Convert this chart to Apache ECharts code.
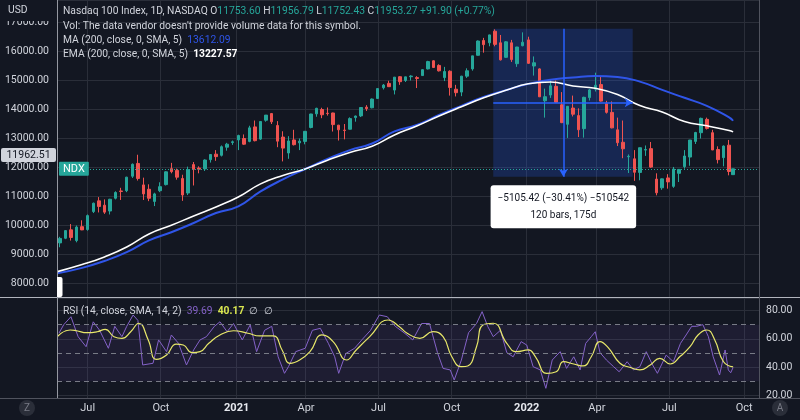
<!DOCTYPE html>
<html><head><meta charset="utf-8">
<script src="https://cdn.jsdelivr.net/npm/echarts@6.0.0/dist/echarts.min.js"></script>
<style>html,body{margin:0;padding:0;background:#131722;}#chart{width:800px;height:420px;}</style>
</head><body><div id="chart"></div>
<script>
// ---------------- data ----------------
const candleDates = [
'2020-05-27','2020-06-03','2020-06-10','2020-06-17','2020-06-24','2020-07-01','2020-07-08','2020-07-15','2020-07-22','2020-07-29',
'2020-08-05','2020-08-12','2020-08-19','2020-08-26','2020-09-02','2020-09-09','2020-09-16','2020-09-23','2020-09-30','2020-10-07',
'2020-10-14','2020-10-21','2020-10-28','2020-11-04','2020-11-11','2020-11-18','2020-11-25','2020-12-02','2020-12-09','2020-12-16',
'2020-12-23','2020-12-30',
'2021-01-06','2021-01-13','2021-01-20','2021-01-27','2021-02-03','2021-02-10','2021-02-17','2021-02-24','2021-03-03','2021-03-10',
'2021-03-17','2021-03-24','2021-03-31','2021-04-07','2021-04-14','2021-04-21','2021-04-28','2021-05-05','2021-05-12','2021-05-19',
'2021-05-26','2021-06-02','2021-06-09','2021-06-16','2021-06-23','2021-06-30','2021-07-07','2021-07-14','2021-07-21','2021-07-28',
'2021-08-04','2021-08-11','2021-08-18','2021-08-25','2021-09-01','2021-09-08','2021-09-15','2021-09-22','2021-09-29','2021-10-06',
'2021-10-13','2021-10-20','2021-10-27','2021-11-03','2021-11-10','2021-11-17','2021-11-24','2021-12-01','2021-12-08','2021-12-15',
'2021-12-22','2021-12-29',
'2022-01-05','2022-01-12','2022-01-19','2022-01-26','2022-02-02','2022-02-09','2022-02-16','2022-02-23','2022-03-02','2022-03-09',
'2022-03-16','2022-03-23','2022-03-30','2022-04-06','2022-04-13','2022-04-20','2022-04-27','2022-05-04','2022-05-11','2022-05-18',
'2022-05-25','2022-06-01','2022-06-08','2022-06-15','2022-06-22','2022-06-29','2022-07-06','2022-07-13','2022-07-20','2022-07-27',
'2022-08-03','2022-08-10','2022-08-17','2022-08-24','2022-08-31','2022-09-07','2022-09-14','2022-09-19'];
const opens = [
9400,9560,9850,9480,9960,9860,10480,10850,10700,10500,10940,11190,11200,11700,12140,11400,11250,10830,11200,11410,
11960,11900,11620,11120,12100,11980,11950,12270,12460,12420,12700,12860,
12950,13000,12900,13400,12980,13630,13860,13450,13050,12500,12950,12850,12900,13380,13850,14000,13870,13880,
13460,13290,13320,13720,13780,14080,14060,14380,14750,14900,14670,15130,15000,15130,15100,15170,15400,15680,
15520,15100,15320,14700,14600,15150,15400,15870,16380,16300,16700,16300,15800,16300,15580,16200,
16400,15500,15400,14300,14500,14800,14160,13490,14050,13790,13340,14410,14700,14860,14200,13900,13300,12870,
12370,12300,11830,12600,12650,11600,11300,11640,11350,11800,12030,12360,12900,13200,13660,13200,12620,12340,
12770,11753.60];
const highs = [
9610,9840,10050,10000,10180,10380,10790,10980,10900,10920,11180,11300,11680,12140,12440,11650,11420,11130,11490,11870,
12160,11960,11750,12030,12190,12040,12280,12460,12600,12760,12850,12930,
13130,13140,13440,13620,13600,13810,13880,13600,13250,13080,13300,13000,13260,13850,14060,14060,14070,13890,
13470,13500,13730,13790,14080,14150,14380,14730,14880,14990,15120,15150,15130,15180,15150,15390,15680,15700,
15560,15470,15350,14850,15160,15420,15850,16380,16470,16580,16765,16570,16360,16400,16160,16660,
16510,15830,15420,14720,15040,15000,14600,14120,14480,14040,14440,14710,15270,15150,14300,14280,13720,13620,
12450,12600,12690,12760,12880,11800,11620,11770,12020,11940,12600,12950,13230,13720,13720,13300,12730,12760,
12950,11956.79];
const lows = [
9250,9530,9480,9420,9840,9820,10430,10450,10400,10380,10900,10880,11150,11640,11550,10880,10840,10670,11150,11380,
11800,11580,10850,11050,11380,11800,11880,12170,12230,12380,12580,12780,
12600,12780,12870,12900,12950,13580,13500,12700,12210,12300,12760,12600,12800,13350,13750,13700,13790,13240,
12930,12970,13310,13580,13740,13950,14040,14360,14690,14780,14520,14850,14950,15000,14740,15160,15380,15430,
15310,14980,14480,14450,14460,15090,15340,15860,15960,16180,16180,15690,15780,15640,15470,16180,
15570,15170,14430,13720,14400,14240,13530,13020,13760,13050,13030,14310,14620,14270,13860,13350,12740,12320,
11810,11540,11560,12400,11990,11040,11230,11270,11300,11500,11960,12060,12810,13000,13310,12600,12140,12040,
11730,11752.43];
const closes = [
9555,9824,9588,9946,9849,10341,10768,10657,10461,10905,11139,11175,11667,12110,11622,11089,10939,11090,11340,11851,
11857,11667,11052,11926,11937,11940,12258,12448,12375,12717,12804,12888,
13105,12804,13367,12925,13587,13807,13575,12909,12669,12915,12787,12908,13247,13845,14041,13818,13860,13480,
13300,13277,13686,13775,14069,14030,14360,14722,14843,14787,15116,14959,15126,15154,15070,15374,15653,15450,
15334,15310,14760,14580,15150,15335,15850,16362,16236,16573,16246,15712,16334,15720,16155,16320,
15592,15612,14438,14441,14816,14253,13548,14110,13838,13302,14420,14676,14838,14289,13901,13367,12855,12645,
12387,11835,12682,12620,12014,11128,11608,11504,11948,11935,12397,12947,13207,13695,13349,12605,12271,12739,
11862,11953.27];

const lineDates = ['2020-05-24','2020-06-24','2020-07-22','2020-08-19','2020-09-16','2020-10-14','2020-11-11','2020-12-09',
'2021-01-06','2021-02-03','2021-03-03','2021-03-31','2021-04-28','2021-05-26','2021-06-23','2021-07-21','2021-08-18',
'2021-09-15','2021-10-13','2021-11-10','2021-12-08','2022-01-05','2022-02-02','2022-03-02','2022-03-30','2022-04-27',
'2022-05-25','2022-06-22','2022-07-20','2022-08-17','2022-09-14','2022-09-19'];
const maValues = [8350,8538,8776,9080,9486,9769,10086,10431,10659,11176,11590,11948,12293,12600,12828,13245,13465,
13810,14127,14431,14669,14883,15027,15103,15155,15124,14962,14676,14403,14127,13731,13612.09];
const emaValues = [8410,8652,8917,9259,9707,10007,10328,10638,10983,11435,11728,11948,12252,12521,12734,13121,13431,
13776,14096,14403,14662,14886,14948,14810,14731,14517,14134,13914,13586,13438,13276,13227.57];

const rsiDates = ['2020-05-26','2020-06-01','2020-06-10','2020-06-19','2020-06-29','2020-07-08','2020-07-16','2020-07-27',
'2020-08-04','2020-08-13','2020-08-19','2020-08-27','2020-09-02','2020-09-08','2020-09-21','2020-09-28','2020-10-08',
'2020-10-14','2020-10-23','2020-11-02','2020-11-11','2020-11-19','2020-11-27','2020-12-07','2020-12-14','2020-12-23',
'2020-12-31','2021-01-11','2021-01-21','2021-01-29','2021-02-08','2021-02-17','2021-02-25','2021-03-05','2021-03-10',
'2021-03-19','2021-03-31','2021-04-09','2021-04-19','2021-04-29','2021-05-07','2021-05-12','2021-05-21','2021-06-01',
'2021-06-10','2021-06-21','2021-07-02','2021-07-12','2021-07-22','2021-08-02','2021-08-13','2021-08-24','2021-09-03',
'2021-09-13','2021-09-20','2021-09-29','2021-10-04','2021-10-13','2021-10-22','2021-11-01','2021-11-08','2021-11-15',
'2021-11-22','2021-12-01','2021-12-09','2021-12-17','2021-12-27','2022-01-03','2022-01-11','2022-01-20','2022-01-27',
'2022-02-04','2022-02-14','2022-02-22','2022-03-03','2022-03-11','2022-03-18','2022-03-25','2022-03-30','2022-04-05',
'2022-04-13','2022-04-22','2022-04-29','2022-05-09','2022-05-17','2022-05-25','2022-06-02','2022-06-10','2022-06-16',
'2022-06-27','2022-07-06','2022-07-15','2022-07-22','2022-07-29','2022-08-04','2022-08-12','2022-08-19','2022-08-25',
'2022-09-02','2022-09-09','2022-09-13','2022-09-16','2022-09-19'];
const rsiValues = [64,70,75.6,61.5,54.4,72,66,53.3,68.8,61.5,68.8,76.8,73,41.5,42.7,59.2,50.9,62.7,56.8,41.5,52.1,59.2,
61.5,68.8,72,65,70.8,59.2,69.8,50.9,66,68.8,47.3,35.6,40.3,50.9,53.3,66,67.4,56.8,47.3,35.6,49.6,53.3,59.2,66,76.8,
75.6,68.8,64.3,59.2,70.8,70.8,50.2,39.1,38,30.9,45,64.3,70.8,79.2,68.8,61.5,66,50.2,47.3,58,55.6,40.3,38,25,45,50.9,
39.1,47.3,38,56.8,61.5,65,50.2,45,40.3,36.7,43.8,38,40.3,50.9,41.5,35.6,48.5,43.8,56.8,62.7,68.8,68.8,70,61.5,47.3,
34.4,52.1,38,36,39.69];

const rsiMaDates = ['2020-05-24','2020-06-09','2020-06-17','2020-06-30','2020-07-13','2020-07-23','2020-08-03','2020-08-13',
'2020-08-24','2020-09-03','2020-09-15','2020-09-25','2020-10-08','2020-10-20','2020-10-29','2020-11-09','2020-11-19',
'2020-11-30','2020-12-14','2020-12-31','2021-01-18','2021-02-02','2021-02-19','2021-03-02','2021-03-12','2021-03-24',
'2021-04-06','2021-04-21','2021-05-05','2021-05-22','2021-06-03','2021-06-20','2021-07-13','2021-07-28','2021-08-05',
'2021-08-22','2021-09-07','2021-09-20','2021-10-01','2021-10-13','2021-10-21','2021-11-01','2021-11-09','2021-11-22',
'2021-12-09','2021-12-21','2022-01-05','2022-01-14','2022-01-28','2022-02-09','2022-02-18','2022-03-03','2022-03-15',
'2022-03-25','2022-04-05','2022-04-15','2022-04-30','2022-05-12','2022-05-25','2022-06-07','2022-06-19','2022-07-02',
'2022-07-15','2022-07-27','2022-08-06','2022-08-17','2022-08-27','2022-09-07','2022-09-19'];
const rsiMaValues = [61.5,66.2,65.7,64.3,65,66.7,61.5,60.3,65,71,59.2,45.5,48.6,56.3,55.6,50.2,50.9,56.8,62.7,65.7,63.9,
62,62,52.1,42.7,45,50.9,62.7,58,45,52.1,61.5,73.3,68.1,64.3,60.3,65,61.5,47.3,40.3,40.8,54.4,69.8,71,56.8,50.9,52.1,
47.3,35.6,36.7,43.8,42.2,40.8,47.3,58,54,42.7,39.9,38,41.5,46.2,42.2,47.8,54.4,62.7,66.2,59.2,43.8,40.17];

const quarterDates = ['2020-07-01','2020-10-01','2021-01-04','2021-04-01','2021-07-01','2021-10-01','2022-01-03','2022-04-01','2022-07-01','2022-10-03'];
const quarterLabels = ['Jul','Oct','2021','Apr','Jul','Oct','2022','Apr','Jul','Oct'];

const rsiLevels = [70, 50, 30];
const measureStart = {date:'2021-11-22', price:16788.60};
const measureEnd = {date:'2022-05-16', price:11683.18};
const measureBars = '120 bars, 175d';
const headerChange = '+91.90 (+0.77%)';
const crosshairPrice = '11962.51';

// ---------------- axis helpers ----------------
const startDay = Date.UTC(2020, 4, 24);
const N_DAYS = 881;
const dayIdx = s => { const p = s.split('-').map(Number); return Math.round((Date.UTC(p[0], p[1]-1, p[2]) - startDay) / 864e5); };
const days = [];
for (let k = 0; k < N_DAYS; k++) days.push(new Date(startDay + k*864e5).toISOString().slice(0,10));
const qMap = new Map(quarterDates.map((d,i) => [dayIdx(d), quarterLabels[i]]));

const FONT = 'Roboto, "Noto Sans", sans-serif';
const HF = '10.3px ' + FONT;
const BG = '#131722';
const GRID = '#2a2e39';
const TXT = '#d1d4dc';

function xAxisCfg(gi) {
  return {
    type:'category', gridIndex: gi, data: days, boundaryGap: true,
    axisLine:{show:false}, axisTick:{show:false},
    axisLabel:{show: gi === 1, interval:(i) => qMap.has(i), margin: 5, color: TXT, fontSize: 11, fontFamily: FONT,
      formatter:(v) => { const l = qMap.get(dayIdx(v)) || ''; return /^\d{4}$/.test(l) ? '{y|' + l + '}' : l; },
      rich:{y:{fontWeight:'bold', color:'#e6e8ee', fontSize:11, fontFamily: FONT}}},
    splitLine:{show:true, interval:(i) => qMap.has(i), lineStyle:{color: GRID, width:1}}
  };
}

const candleData = candleDates.map((d,i) => [dayIdx(d), opens[i], closes[i], lows[i], highs[i]]);
const last = candleDates.length - 1;
const midIdx = Math.round((dayIdx(measureStart.date) + dayIdx(measureEnd.date)) / 2);
const midPrice = (measureStart.price + measureEnd.price) / 2;
const diff = measureEnd.price - measureStart.price;
const pct = diff / measureStart.price * 100;
const minus = s => s.replace('-', '\u2212');
const measureText = minus(diff.toFixed(2)) + ' (' + minus(pct.toFixed(2)) + '%) ' + minus(String(Math.round(diff*100)));

const option = {
  backgroundColor: BG,
  animation: false,
  textStyle:{fontFamily: FONT},
  grid: [
    {left: 57, right: 41, top: 0, height: 297},
    {left: 57, right: 41, top: 298, height: 100}
  ],
  xAxis: [xAxisCfg(0), xAxisCfg(1)],
  yAxis: [
    {type:'value', gridIndex:0, position:'left', min:7534.5, max:17776, splitNumber:10,
      axisLine:{show:false}, axisTick:{show:false},
      axisLabel:{color: TXT, fontSize:10.5, fontFamily: FONT, margin:8, showMinLabel:true, showMaxLabel:true,
        formatter: v => (Math.abs(v % 1000) < 1e-6 ? v.toFixed(2) : '')},
      splitLine:{lineStyle:{color: GRID}}},
    {type:'value', gridIndex:1, position:'right', min:18.16, max:88.83, splitNumber:3,
      axisLine:{show:false}, axisTick:{show:false},
      axisLabel:{color: TXT, fontSize:10.5, fontFamily: FONT, margin:7, showMinLabel:true, showMaxLabel:true,
        formatter: v => (Math.abs(v % 20) < 1e-6 ? v.toFixed(2) : '')},
      splitLine:{lineStyle:{color: GRID}}}
  ],
  series: [
    {type:'candlestick', name:'NDX', xAxisIndex:0, yAxisIndex:0, data: candleData, encode:{x:0, y:[1,2,3,4]},
      barWidth: 3,
      itemStyle:{color:'#26a69a', color0:'#ef5350', borderColor:'#26a69a', borderColor0:'#ef5350', borderWidth:1},
      markLine:{silent:true, symbol:['none','none'],
        data:[{yAxis: closes[last], lineStyle:{color:'#26a69a', type:[1,2], width:1},
          label:{show:true, position:'insideStart', distance:2, formatter:'NDX', color:'#ffffff', fontSize:11, fontFamily: FONT,
            backgroundColor:'#26a69a', padding:[2,4,1,4], borderRadius:1}}]}
    },
    {type:'line', name:'MA', xAxisIndex:0, yAxisIndex:0, smooth:true, showSymbol:false,
      data: lineDates.map((d,i) => [dayIdx(d), maValues[i]]), lineStyle:{color:'#2f55e8', width:2}},
    {type:'line', name:'EMA', xAxisIndex:0, yAxisIndex:0, smooth:true, showSymbol:false,
      data: lineDates.map((d,i) => [dayIdx(d), emaValues[i]]), lineStyle:{color:'#ffffff', width:1.6}},
    {type:'line', name:'measure', xAxisIndex:0, yAxisIndex:0, data: [], z: 5,
      markArea:{silent:true, itemStyle:{color:'rgba(41,98,255,0.22)'},
        data:[[{coord:[dayIdx(measureStart.date), measureStart.price]}, {coord:[dayIdx(measureEnd.date), measureEnd.price]}]]},
      markLine:{silent:true, symbol:['none','arrow'], symbolSize:[7,8], lineStyle:{color:'#2962ff', width:1.5, type:'solid'}, label:{show:false},
        data:[
          [{coord:[midIdx, measureStart.price]}, {coord:[midIdx, measureEnd.price]}],
          [{coord:[dayIdx(measureStart.date), midPrice]}, {coord:[dayIdx(measureEnd.date), midPrice]}]
        ]},
      markPoint:{silent:true, symbol:'rect', symbolSize:1, itemStyle:{color:'rgba(0,0,0,0)'},
        label:{show:true, position:'bottom', distance:8, formatter: measureText + '\n' + measureBars,
          backgroundColor:'#ffffff', borderRadius:3, padding:[5,7,4,7], color:'#131722', fontSize:10, lineHeight:17, align:'center', fontFamily: FONT},
        data:[{coord:[midIdx, measureEnd.price]}]}
    },
    {type:'line', name:'RSI', xAxisIndex:1, yAxisIndex:1, showSymbol:false,
      data: rsiDates.map((d,i) => [dayIdx(d), rsiValues[i]]), lineStyle:{color:'#8462c8', width:1},
      markArea:{silent:true, itemStyle:{color:'rgba(126,87,194,0.10)'}, data:[[{yAxis: rsiLevels[0]}, {yAxis: rsiLevels[2]}]]},
      markLine:{silent:true, symbol:['none','none'], label:{show:false}, lineStyle:{color:'#787b86', type:[5,4], width:1},
        data: rsiLevels.map(v => ({yAxis: v}))}
    },
    {type:'line', name:'RSI MA', xAxisIndex:1, yAxisIndex:1, smooth:true, showSymbol:false,
      data: rsiMaDates.map((d,i) => [dayIdx(d), rsiMaValues[i]]), lineStyle:{color:'#e8e86a', width:1.2}}
  ],
  graphic: [
    {type:'line', z:50, shape:{x1:0, y1:297.5, x2:800, y2:297.5}, style:{stroke:'#b2b5be', lineWidth:1}},
    {type:'line', z:50, shape:{x1:0, y1:398.5, x2:800, y2:398.5}, style:{stroke:'#50535e', lineWidth:1}},
    {type:'line', z:50, shape:{x1:57.5, y1:0, x2:57.5, y2:398}, style:{stroke:'#9598a1', lineWidth:1}},
    {type:'line', z:50, shape:{x1:759.5, y1:0, x2:759.5, y2:398}, style:{stroke:'#50535e', lineWidth:1}},
    {type:'rect', z:49, shape:{x:760, y:399, width:40, height:21}, style:{fill: BG}},
    {type:'rect', z:60, shape:{x:0, y:0, width:57, height:21}, style:{fill: BG}},
    {type:'text', z:61, style:{x:8, y:10, text:'USD', fill: TXT, font: HF, verticalAlign:'middle'}},
    {type:'rect', z:60, shape:{x:1, y:148, width:55, height:14, r:2}, style:{fill:'#d1d4dc'}},
    {type:'text', z:61, style:{x:28.5, y:155.5, text: crosshairPrice, fill:'#131722', font:'10.5px ' + FONT, align:'center', verticalAlign:'middle'}},
    {type:'rect', z:60, shape:{x:57, y:277, width:5.5, height:20, r:[0,2,2,0]}, style:{fill:'#ffffff'}},
    {type:'text', z:61, style:{x:63, y:11, verticalAlign:'middle', font: HF, fill: TXT,
      text:'{w|Nasdaq 100 Index, 1D, NASDAQ} {w|O}{g|' + opens[last].toFixed(2) + '} {w|H}{g|' + highs[last].toFixed(2) + '} {w|L}{g|' + lows[last].toFixed(2) + '} {w|C}{g|' + closes[last].toFixed(2) + ' ' + headerChange + '}',
      rich:{w:{fill: TXT, font: HF}, g:{fill:'#26a69a', font: HF}}}},
    {type:'text', z:61, style:{x:63, y:26, verticalAlign:'middle', font: HF, fill: TXT,
      text:"Vol: The data vendor doesn't provide volume data for this symbol."}},
    {type:'text', z:61, style:{x:63, y:40, verticalAlign:'middle', font: HF, fill: TXT,
      text:'{w|MA (200, close, 0, SMA, 5)}  {b|' + maValues[maValues.length-1].toFixed(2) + '}',
      rich:{w:{fill: TXT, font: HF}, b:{fill:'#2f55e8', font: HF}}}},
    {type:'text', z:61, style:{x:63, y:54, verticalAlign:'middle', font: HF, fill: TXT,
      text:'{w|EMA (200, close, 0, SMA, 5)}  {b|' + emaValues[emaValues.length-1].toFixed(2) + '}',
      rich:{w:{fill: TXT, font: HF}, b:{fill:'#ffffff', font:'bold ' + HF}}}},
    {type:'text', z:61, style:{x:63, y:311, verticalAlign:'middle', font: HF, fill: TXT,
      text:'{w|RSI (14, close, SMA, 14, 2)}  {p|' + rsiValues[rsiValues.length-1].toFixed(2) + '}  {y|' + rsiMaValues[rsiMaValues.length-1].toFixed(2) + '}  {w|\u2205  \u2205}',
      rich:{w:{fill: TXT, font: HF}, p:{fill:'#8462c8', font: HF}, y:{fill:'#d9e650', font:'bold ' + HF}}}},
    {type:'circle', z:60, shape:{cx:27, cy:408, r:8}, style:{fill:'#2a2e39'}},
    {type:'text', z:61, style:{x:27, y:408, text:'Z', fill:'#787b86', font:'10px ' + FONT, align:'center', verticalAlign:'middle'}},
    {type:'circle', z:60, shape:{cx:780, cy:408, r:8}, style:{fill:'#2a2e39'}},
    {type:'text', z:61, style:{x:780, y:408, text:'A', fill:'#787b86', font:'10px ' + FONT, align:'center', verticalAlign:'middle'}}
  ]
};
const chart = echarts.init(document.getElementById('chart'));
chart.setOption(option);
</script></body></html>
